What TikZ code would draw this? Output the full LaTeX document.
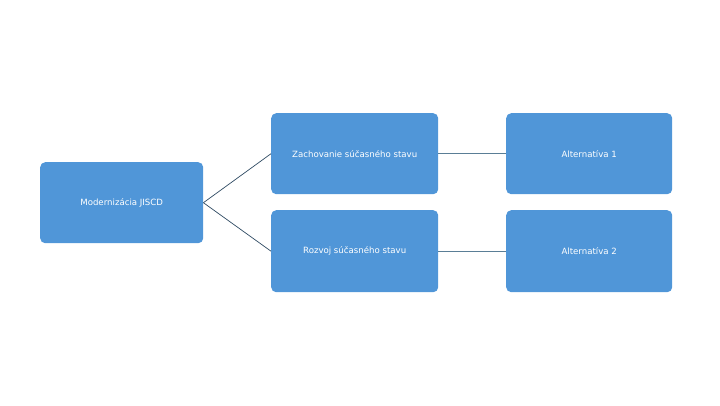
\documentclass[tikz,border=0pt]{standalone}
\usepackage{fontspec}
\setmainfont{DejaVu Sans}
\definecolor{boxblue}{HTML}{5096D8}
\definecolor{linec}{HTML}{2E4A62}
\definecolor{linel}{HTML}{5A7E96}
\begin{document}
\begin{tikzpicture}[x=1pt,y=-1pt,
  box/.style={fill=boxblue,draw=none,rounded corners=5pt,text=white,font=\fontsize{8.6}{10}\selectfont,anchor=north west,inner sep=0pt},
  conn/.style={draw=linec,line width=0.7pt}]
\useasboundingbox (0,0) rectangle (720,405);
\node[box,minimum width=163pt,minimum height=81pt] (m) at (40,162) {Modernizácia JISCD};
\node[box,minimum width=167pt,minimum height=81pt] (z) at (271,113) {Zachovanie súčasného stavu};
\node[box,minimum width=167pt,minimum height=82pt] (r) at (271,210) {Rozvoj súčasného stavu};
\node[box,minimum width=166pt,minimum height=81pt] (a1) at (506,113) {Alternatíva 1};
\node[box,minimum width=166pt,minimum height=82pt] (a2) at (506,210) {Alternatíva 2};
\draw[conn] (m.east) -- (z.west);
\draw[conn] (m.east) -- (r.west);
\draw[conn,draw=linel] (z.east) -- (a1.west);
\draw[conn,draw=linel] (r.east) -- (a2.west);
\end{tikzpicture}
\end{document}
